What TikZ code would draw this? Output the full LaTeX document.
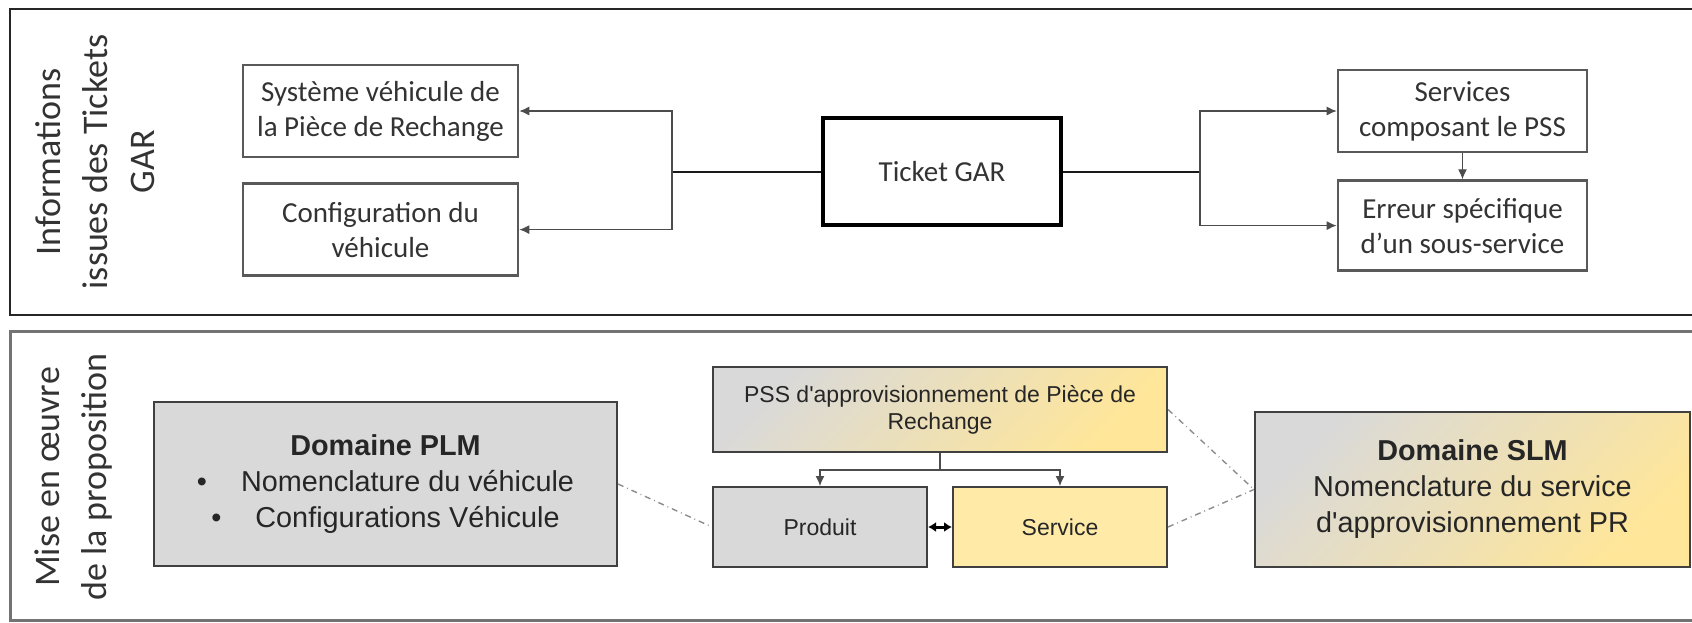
\documentclass[tikz,border=0pt]{standalone}
\usepackage{fontspec}
\setmainfont{Carlito}
\newfontfamily\arialfont{Liberation Sans}
\usepackage{tikz}
\usetikzlibrary{
    arrows.meta,
    positioning
}
\definecolor{boxgray}{HTML}{D9D9D9}
\definecolor{boxyellow}{HTML}{FFE699}
\definecolor{linkgray}{HTML}{8C8C8C}
\tikzset{
    panel/.style={
        draw=black!85,
        line width=1pt
    },
    vlabel/.style={
        rotate=90,
        align=center,
        text=black!80,
        font=\fontsize{18}{23.5}\selectfont
    },
    infobox/.style={
        rectangle,
        draw=black!65,
        line width=1.3pt,
        align=center,
        inner sep=0pt,
        minimum width=137.5pt,
        minimum height=46pt,
        text=black!80,
        font=\fontsize{14.5}{17.5}\selectfont
    },
    ticketbox/.style={
        infobox,
        draw=black,
        line width=2pt,
        minimum width=119pt,
        minimum height=53.5pt
    },
    domainbox/.style={
        rectangle,
        draw=black!75,
        line width=1pt,
        align=center,
        inner sep=0pt,
        text=black!85,
        font=\arialfont\fontsize{14.4}{18}\selectfont
    },
    pssbox/.style={
        domainbox,
        minimum width=107pt,
        minimum height=40pt,
        font=\arialfont\fontsize{11.5}{13.5}\selectfont
    },
    mixfill/.style={
        top color=boxgray,
        bottom color=boxyellow,
        shading angle=45
    },
    arrow/.style={
        -{Latex[length=5pt,width=4.5pt]},
        draw=black!70,
        line width=0.6pt
    },
    mainline/.style={
        draw=black!90,
        line width=1pt
    },
    dblarrow/.style={
        {Latex[length=4pt,width=5pt]}-{Latex[length=4pt,width=5pt]},
        line width=1.5pt
    },
    link/.style={
        dash dot,
        draw=linkgray,
        line width=0.7pt
    }
}

\begin{document}
\begin{tikzpicture}[x=0.5pt, y=-0.5pt]
\useasboundingbox (0,0) rectangle (1692,622);
\clip (0,0) rectangle (1692,622);

\draw[panel] (10,9) rectangle (1710,315);
\draw[panel, draw=black!55, line width=1.5pt] (10,331) rectangle (1710,620);

\node[vlabel] (lbltop) at (95,162) {Informations\\issues des Tickets\\GAR};
\node[vlabel] (lblbot) at (74,477) {Mise en œuvre\\de la proposition};

\node[infobox] (sys) at (380.5,111) {Système véhicule de\\la Pièce de Rechange};
\node[infobox, below=12pt of sys] (conf) {Configuration du\\véhicule};
\node[ticketbox] (tick) at (942,171.5) {Ticket GAR};
\node[infobox, minimum width=124.5pt, minimum height=41pt] (serv) at (1462.5,111) {Services\\composant le PSS};
\node[infobox, minimum width=124.5pt, minimum height=45pt, below=13pt of serv] (err) {Erreur spécifique\\d’un sous-service};

\coordinate (jl) at (672,171.5);
\coordinate (jr) at (1200,171.5);

\draw[mainline] (tick.west) -- (jl);
\draw[mainline] (tick.east) -- (jr);
\draw[arrow] (jl) |- (sys.east);
\draw[arrow] (jl) |- (conf.east);
\draw[arrow] (jr) |- (serv.west);
\draw[arrow] (jr) |- (err.west);
\draw[arrow] (serv) -- (err);

\node[domainbox, fill=boxgray, minimum width=231.5pt, minimum height=82pt] (plm) at (385.5,484)
    {\textbf{Domaine PLM}\\\textbullet\hspace{17pt}Nomenclature du véhicule\\\textbullet\hspace{17pt}Configurations Véhicule};
\node[pssbox, mixfill, minimum width=227pt, minimum height=42.5pt] (pss) at (940,409.5)
    {PSS d'approvisionnement de Pièce de\\Rechange};
\node[pssbox, fill=boxgray] (prod) at (820,527) {Produit};
\node[pssbox, fill=boxyellow!85] (svc) at (1060,527) {Service};
\node[domainbox, mixfill, minimum width=217.5pt, minimum height=77.5pt] (slm) at (1472.5,489.5)
    {\textbf{Domaine SLM}\\Nomenclature du service\\d'approvisionnement PR};

\coordinate (split) at (940,470);
\draw[arrow] (pss.south) -- (split) -| (prod.north);
\draw[arrow] (split) -| (svc.north);
\draw[dblarrow] (prod) -- (svc);

\draw[link] (plm.east) -- (prod.west);
\draw[link] (pss.east) -- (slm.west);
\draw[link] (svc.east) -- (slm.west);
\end{tikzpicture}
\end{document}
